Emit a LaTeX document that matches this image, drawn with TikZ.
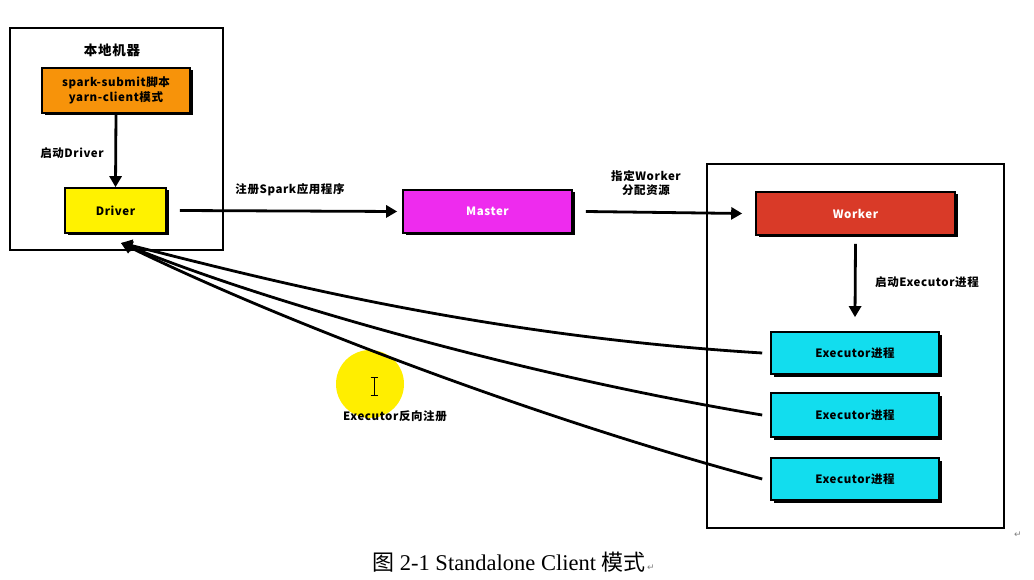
\documentclass[tikz,border=0pt]{standalone}
\usepackage{fontspec}
\newfontfamily\cjk{Noto Sans CJK SC}[LetterSpace=5]
\newfontfamily\cjkcap{Noto Sans CJK SC}
\newfontfamily\capfont{Liberation Serif}
\newfontfamily\symfont{DejaVu Sans}
\usetikzlibrary{arrows.meta,shadows}
\definecolor{cOrange}{HTML}{F7930A}
\definecolor{cYellow}{HTML}{FFF200}
\definecolor{cMagenta}{HTML}{EE2BEE}
\definecolor{cRed}{HTML}{D93A28}
\definecolor{cCyan}{HTML}{12DDEE}
\definecolor{cHilite}{HTML}{FFEE00}
\begin{document}
\begin{tikzpicture}[x=1pt,y=-1pt,
  box/.style={draw=black,line width=1.6pt,inner sep=0pt,
    font=\cjk\bfseries\fontsize{11.5}{13}\selectfont,
    drop shadow={opacity=1,fill=black,shadow xshift=2.5pt,shadow yshift=-2.5pt}},
  frame/.style={draw=black,line width=1.5pt},
  arr/.style={line width=2.8pt,-{Triangle[length=11pt,width=12pt]}},
  lbl/.style={font=\cjk\bfseries\fontsize{11.5}{14}\selectfont,inner sep=0pt,align=center},
  retmark/.style={font=\symfont\fontsize{9}{10}\selectfont,text=gray,inner sep=0pt}]
\useasboundingbox (0,0) rectangle (1034,580);
\fill[white] (0,0) rectangle (1034,580);
% frames
\draw[frame] (10,28) rectangle (223,250);
\draw[frame] (707,164) rectangle (1004,528);
% nodes
\node[lbl,font=\cjk\bfseries\fontsize{13.5}{15}\selectfont] (local) at (112,50) {本地机器};
\node[box,fill=cOrange,minimum width=148pt,minimum height=45pt,align=center,
  font=\cjk\bfseries\fontsize{11.5}{14.5}\selectfont] (submit) at (116,90.5) {spark-submit脚本\\yarn-client模式};
\node[box,fill=cYellow,minimum width=101pt,minimum height=45pt] (driver) at (115.5,210.5) {Driver};
\node[box,fill=cMagenta,text=white,minimum width=169pt,minimum height=43pt] (master) at (487.5,211.5) {Master};
\node[box,fill=cRed,text=white,minimum width=199pt,minimum height=43pt] (worker) at (855.5,213.5) {Worker};
\node[box,fill=cCyan,minimum width=168pt,minimum height=42pt] (ex1) at (855,353) {Executor进程};
\node[box,fill=cCyan,minimum width=168pt,minimum height=44pt] (ex2) at (855,415) {Executor进程};
\node[box,fill=cCyan,minimum width=168pt,minimum height=42pt] (ex3) at (855,479) {Executor进程};
% highlight circle (cursor)
\fill[cHilite] (370,384) circle (34);
\draw[line width=0.8pt] (374,377) -- (374,395) (370.5,377) -- (377.5,377) (370.5,395) -- (377.5,395);
% labels
\node[lbl] (lstart) at (72,153) {启动Driver};
\node[lbl] (lreg) at (290,190) {注册Spark应用程序};
\node[lbl] (lassign) at (646,183.5) {指定Worker\\分配资源};
\node[lbl] (lexec) at (927,282) {启动Executor进程};
\node[lbl] (lback) at (395,416) {Executor反向注册};
% arrows
\draw[arr] (submit.south) -- (driver.north);
\draw[arr] ([xshift=13pt]driver.east) -- ([xshift=-5pt]master.west);
\draw[arr] ([xshift=13pt]master.east) -- ([xshift=-13pt]worker.west);
\draw[arr] ([yshift=-8pt]worker.south) -- ([yshift=14pt]ex1.north);
\coordinate (dtip) at (121,243);
\coordinate (e1) at ([xshift=-8pt]ex1.west);
\coordinate (e2) at ([xshift=-8pt]ex2.west);
\coordinate (e3) at ([xshift=-8pt]ex3.west);
\draw[arr] (e1) .. controls (470,335) and (250,275) .. (dtip);
\draw[arr] (e2) .. controls (520,375) and (260,300) .. (dtip);
\draw[arr] (e3) .. controls (560,425) and (300,330) .. (dtip);
% caption
\node[inner sep=0pt,anchor=base] (cap) at (509,570) {\cjkcap\fontsize{22}{26}\selectfont 图\capfont\fontsize{22.5}{26}\selectfont{} 2-1 Standalone Client \cjkcap\fontsize{22}{26}\selectfont 模式};
\node[retmark,anchor=base west] (ret1) at ([xshift=1pt]cap.base east) {↵};
\node[retmark] (ret2) at (1018,535) {↵};
\end{tikzpicture}
\end{document}
